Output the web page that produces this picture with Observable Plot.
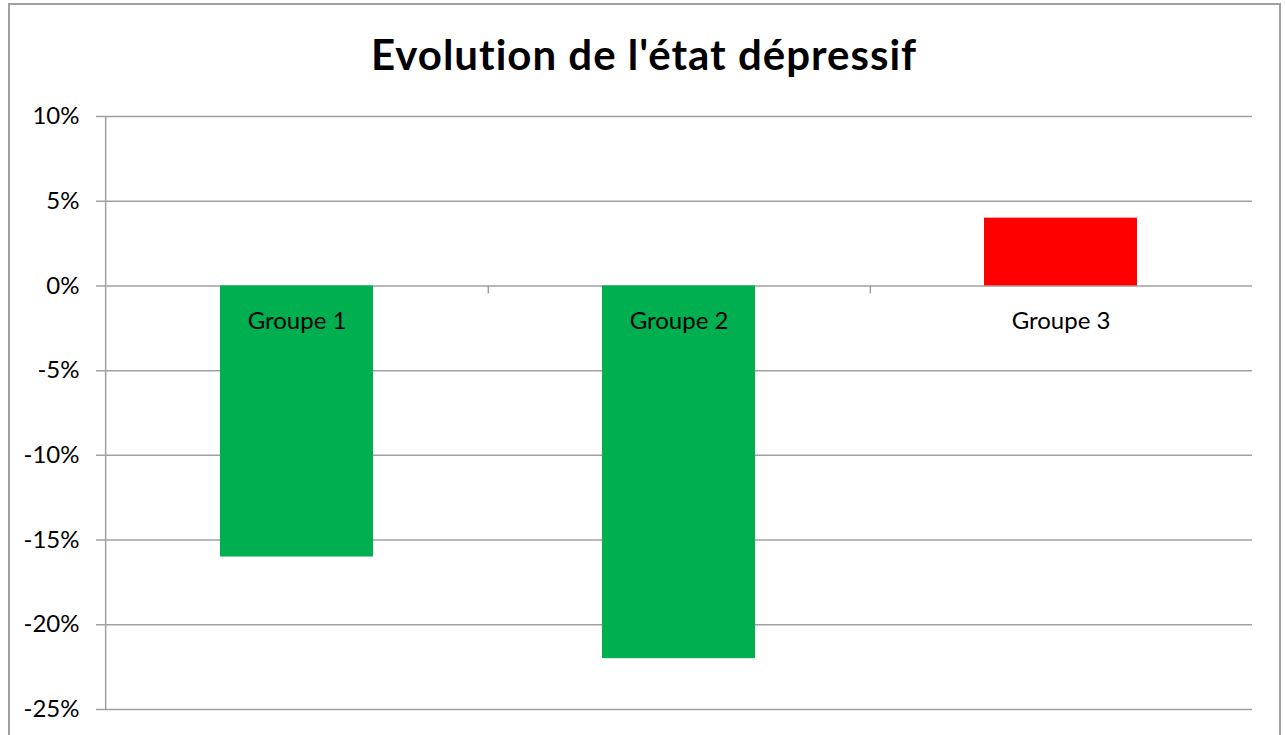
<!DOCTYPE html>
<html><head><meta charset="utf-8">
<script src="https://cdn.jsdelivr.net/npm/d3@7"></script>
<script src="https://cdn.jsdelivr.net/npm/@observablehq/plot@0.6"></script>
<style>
body{margin:0;background:#fff;}
#wrap{position:relative;width:1285px;height:735px;overflow:hidden;font-family:Lato,sans-serif;background:#fff;}
#border{position:absolute;left:8px;top:3px;width:1273px;height:800px;box-sizing:border-box;border:2px solid #a0a0a0;}
#title{position:absolute;left:0;width:1288px;top:28px;text-align:center;font-weight:bold;font-size:42px;letter-spacing:1px;line-height:52px;color:#000;}
#chart{position:absolute;left:0;top:0;}
</style></head>
<body>
<div id="wrap"><div id="border"></div><div id="chart"></div><div id="title">Evolution de l'état dépressif</div></div>
<script>
const groups = ["Groupe 1", "Groupe 2", "Groupe 3"];
const values = [-16, -22, 4];
const colors = ["#00B050", "#00B050", "#FF0000"];
const yTicks = [10, 5, 0, -5, -10, -15, -20, -25];

const data = groups.map((g, i) => ({group: g, value: values[i], color: colors[i]}));
const W = 1285, H = 735, mL = 104, mR = 33, mT = 116, mB = 26;
const step = (W - mL - mR) / groups.length;
const pxPerUnit = (H - mT - mB) / 35;
const grid = "#a0a0a0";

const chart = Plot.plot({
  width: W, height: H,
  marginLeft: mL, marginRight: mR, marginTop: mT, marginBottom: mB,
  style: {fontFamily: "Lato, sans-serif", fontSize: "24px", color: "#000", background: "transparent", overflow: "visible"},
  x: {domain: groups, paddingInner: 0.6, paddingOuter: 0.3, axis: null},
  y: {domain: [-25, 10], axis: null},
  color: {type: "identity"},
  marks: [
    Plot.ruleY(yTicks, {stroke: grid, strokeWidth: 1.5, insetLeft: -8}),
    Plot.barY(data, {x: "group", y1: 0, y2: "value", fill: "color"}),
    Plot.ruleX([groups[0]], {x: d => d, dx: -step / 2, stroke: grid, strokeWidth: 1.5}),
    Plot.ruleX(groups.slice(0, -1), {x: d => d, dx: step / 2, y1: 0, y2: -8 / pxPerUnit, stroke: grid, strokeWidth: 1.5}),
    Plot.axisY(yTicks, {tickSize: 0, tickPadding: 25, tickFormat: d => d + "%", fontSize: 24, fill: "#000", label: null}),
    Plot.text(data, {x: "group", y: () => 0, text: "group", dy: 35, fontSize: 24, fill: "#000"})
  ]
});
document.getElementById("chart").appendChild(chart);
</script>
</body></html>
